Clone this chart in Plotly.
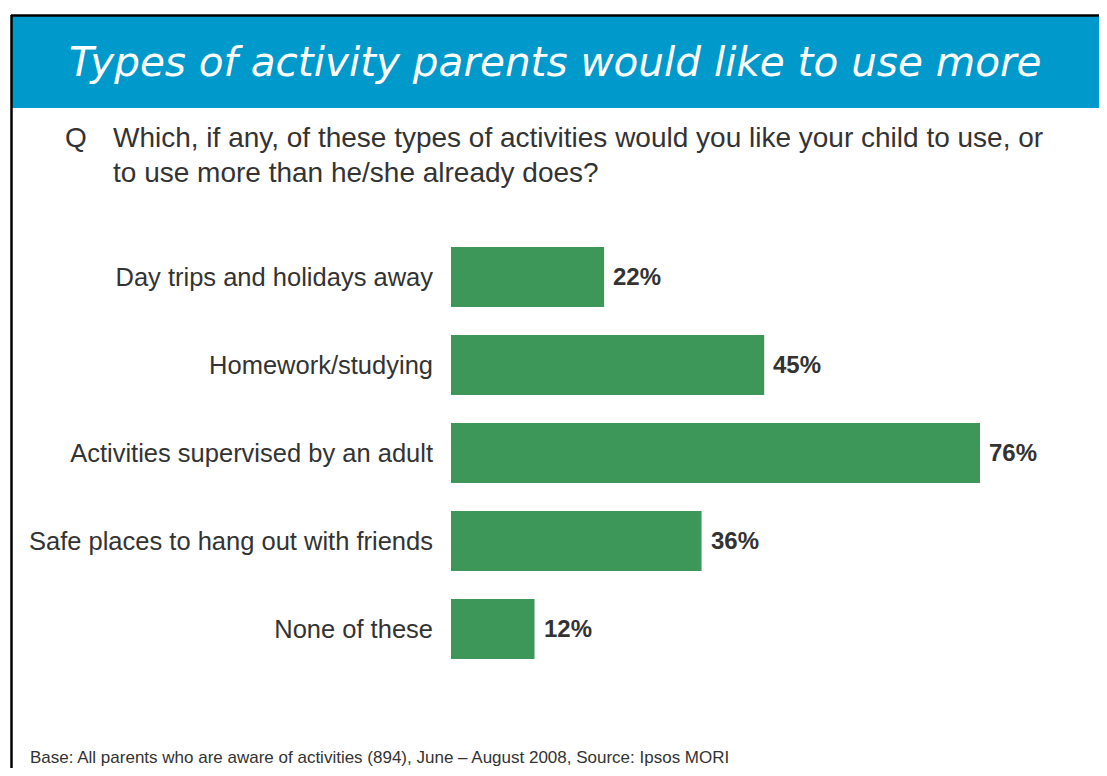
import plotly.graph_objects as go

# survey answers, top to bottom as on the slide
CATEGORIES = ["Day trips and holidays away", "Homework/studying",
              "Activities supervised by an adult",
              "Safe places to hang out with friends", "None of these"]
PCT = [22, 45, 76, 36, 12]

TITLE = "Types of activity parents would like to use more"
QUESTION = ["Which, if any, of these types of activities would you like your child to use, or",
            "to use more than he/she already does?"]
FOOTNOTE = "Base: All parents who are aware of activities (894), June \u2013 August 2008, Source: Ipsos MORI"

# page has an 8px body margin, so the figure is a little smaller than the window
OFF = 8
W, H = 1107 - OFF, 776 - 2 * OFF
BLUE = "#0099cc"
GREEN = "#3d9758"
INK = "#333333"
ARIAL = "Liberation Sans, Arial, sans-serif"


def px(x):
    # window pixel -> paper fraction
    return (x - OFF) / W


def py(y):
    return 1 - (y - OFF) / H


fig = go.Figure(go.Bar(
    x=PCT, y=CATEGORIES, orientation="h", width=0.68,
    marker=dict(color=GREEN, line=dict(width=0)), hoverinfo="x+y"))

# value labels just right of each bar
for cat, v in zip(CATEGORIES, PCT):
    fig.add_annotation(x=v, y=cat, text=f"<b>{v}%</b>", showarrow=False,
                       xanchor="left", xshift=7, yshift=1,
                       font=dict(family=ARIAL, size=24, color=INK))

# slide chrome: black frame, blue header band
fig.add_shape(type="rect", xref="paper", yref="paper",
              x0=px(12), x1=1.01, y0=py(108), y1=py(16),
              fillcolor=BLUE, line=dict(width=0), layer="below")
fig.add_shape(type="line", xref="paper", yref="paper",
              x0=px(11), x1=1.01, y0=py(15.5), y1=py(15.5),
              line=dict(color="black", width=2.5))
fig.add_shape(type="line", xref="paper", yref="paper",
              x0=px(11.5), x1=px(11.5), y0=-0.02, y1=py(15),
              line=dict(color="black", width=2.5))

fig.add_annotation(xref="paper", yref="paper", x=px(555), y=py(62),
                   text=TITLE, showarrow=False, xanchor="center", yanchor="middle",
                   font=dict(family="DejaVu Sans", size=40.5, color="white", style="italic"))

fig.add_annotation(xref="paper", yref="paper", x=px(63), y=py(137),
                   text="Q", showarrow=False, xanchor="left", yanchor="middle",
                   font=dict(family=ARIAL, size=28, color=INK))
for i, line in enumerate(QUESTION):
    fig.add_annotation(xref="paper", yref="paper", x=px(111), y=py(137 + 35 * i),
                       text=line, showarrow=False, xanchor="left", yanchor="middle",
                       font=dict(family=ARIAL, size=28, color=INK))

fig.add_annotation(xref="paper", yref="paper", x=px(28), y=py(757),
                   text=FOOTNOTE, showarrow=False, xanchor="left", yanchor="middle",
                   font=dict(family=ARIAL, size=17, color=INK))

fig.update_xaxes(range=[0, 94.25], visible=False, domain=[px(451), 1])
fig.update_yaxes(autorange="reversed", domain=[py(673), py(233)],
                 showgrid=False, zeroline=False, showline=False, ticks="",
                 ticklabelstandoff=17,
                 tickfont=dict(family=ARIAL, size=25.5, color=INK))
fig.update_layout(width=W, height=H, margin=dict(l=0, r=0, t=0, b=0),
                  paper_bgcolor="white", plot_bgcolor="rgba(0,0,0,0)",
                  showlegend=False, bargap=0.32)

fig.write_html("out.html")
